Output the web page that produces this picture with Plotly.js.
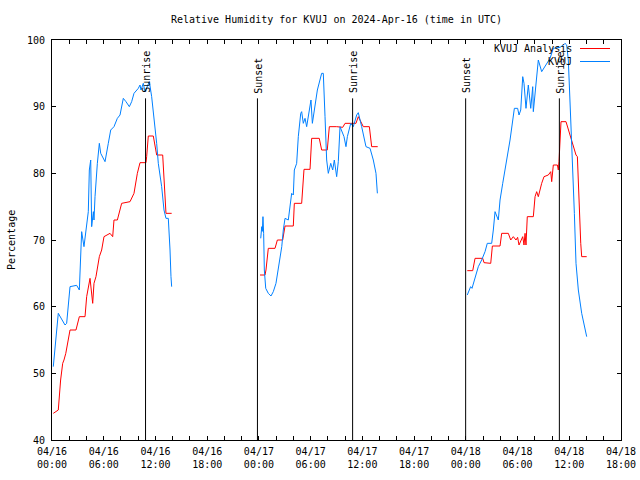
<!DOCTYPE html>
<html>
<head>
<meta charset="utf-8">
<script src="https://cdn.plot.ly/plotly-3.0.1.min.js"></script>
<style>html,body{margin:0;padding:0;background:#fff;}#chart{width:640px;height:480px;}</style>
</head>
<body>
<div id="chart"></div>
<script>
// Hours since 2024-04-16 00:00 UTC, relative humidity (%)
const obsHours1 = [0.15,0.73,1.51,1.7,2.09,2.86,3.17,3.33,3.44,3.71,4.02,4.21,4.33,4.49,4.6,4.8,4.87,4.99,5.26,5.49,5.65,6.15,6.53,6.81,7.19,7.58,7.89,8.27,8.58,8.97,9.24,9.51,10.01,10.21,10.32,10.59,10.79,11.17,11.29,11.56,11.95,12.14,12.33,12.72,12.99,13.22,13.49,13.61,13.69,13.8,13.88];
const obsRH1    = [51,59,57.25,57.5,63,63.2,62.5,69,71.25,69,72,74.25,80.5,82,72,74.25,73,76.5,81.5,84.5,83,81.75,84.5,86.5,87,88.25,88.75,91.25,90.75,90,90.75,92,92.75,93.25,92.5,93.5,92.25,93.5,93.75,91.5,87,84.5,81.5,78,74.5,73.25,73.25,71,68.5,64.5,63];
const obsHours2 = [24.21,24.33,24.4,24.47,24.55,24.63,24.79,25.09,25.4,25.67,25.98,26.37,26.65,26.83,27.03,27.41,27.61,27.8,27.99,28.11,28.38,28.57,28.85,28.96,29.15,29.35,29.54,29.73,29.93,30.04,30.2,30.51,30.78,31.28,31.47,31.67,31.86,32.05,32.33,32.56,32.75,33.02,33.21,33.41,33.87,34.1,34.26,34.65,34.95,35.34,35.53,35.92,36.19,36.42,36.89,37.27,37.58,37.74];
const obsRH2    = [70.25,72,71.3,73.5,71,65.5,62.75,62,61.6,62.25,63.5,66.5,69,71.5,73.25,73,75,77,76.75,80.5,81.5,85.5,89,89.25,87.5,88.25,87,88.5,90.5,91,87.5,90,92.5,95,95,88.5,82,80,81.5,80.5,82,79.5,81.75,87,85.5,84,85.5,87.5,87,88.75,89.1,87,85.5,84,83.75,82,80,77];
const obsHours3 = [48.17,48.56,48.72,49.07,49.45,49.84,50.23,50.49,51.0,51.19,51.39,51.77,51.97,52.28,52.66,53.13,53.63,54.01,54.17,54.37,54.6,54.75,54.98,55.25,55.53,55.76,55.83,56.14,56.41,56.8,57.19,57.77,58.15,58.93,59.31,59.5,59.7,59.89,60.17,60.4,60.59,60.78,61.05,61.44,61.71,62.02];
const obsRH3    = [61.75,63,62.75,64.5,66,67,68.25,69.5,69.5,71.5,74.25,73,76,78.5,81.5,85,89.75,89.75,88.75,89.5,94.5,93.5,89.75,93.25,89.75,93,89.25,94,97,95.25,96,97.25,98.75,98.9,99.25,99.5,99.25,97,88,81.5,74,66.5,62.5,59,57.5,55.5];

const anaHours1 = [0.15,0.62,0.73,1.0,1.24,1.39,1.6,2.09,2.78,3.17,3.83,4.02,4.41,4.72,4.87,5.1,5.49,5.76,6.03,6.73,7.04,7.19,7.58,8.08,9.05,9.51,9.9,10.21,10.9,10.98,11.17,11.75,12.14,12.84,13.11,13.22,13.88];
const anaRH1    = [44,44.5,44.5,49,51.5,52,53,56.5,56.5,58.5,58.5,61.5,64.25,60.5,63.5,64.5,67.5,68.5,70.5,71,70.5,73,73,75.5,75.75,77,80,81.6,81.6,82.5,85.6,85.6,82.75,82.75,77.5,74,74];
const anaHours2 = [24.13,24.71,24.82,24.98,25.09,25.87,26.14,26.76,27.03,27.99,28.11,28.96,29.23,29.93,30.12,31.0,31.2,31.28,31.93,32.17,33.02,33.72,33.99,35.26,35.53,35.92,36.11,36.81,37.08,37.78];
const anaRH2    = [64.75,64.75,65.5,68.25,68.75,68.75,70,70,72.1,72.1,75.5,75.5,80.6,80.6,85.25,85.25,84,83.5,83.5,87,87,86.9,87.5,87.5,88.5,87.4,87,87,84,84];
const anaHours3 = [48.17,48.8,49.07,49.96,50.11,50.89,51.08,51.97,52.16,52.93,53.21,53.51,53.82,54.01,54.17,54.6,54.75,54.87,54.98,55.13,55.83,56.03,56.22,56.41,56.8,57.07,57.57,57.85,57.96,58.15,58.62,58.73,58.81,58.93,59.04,59.62,59.89,60.28,60.47,60.78,60.94,61.17,61.33,61.44,62.02];
const anaRH3    = [65.4,65.4,67.25,67.25,66.6,66.5,69.1,69.1,71,71,70,70.5,70,70.4,69.25,70.5,69.25,71,69.25,73.5,73.5,76.5,77.25,76.5,78.5,79.5,79.75,80.25,78.75,81.25,81.25,80.5,81.75,84.25,87.75,87.75,86.5,84.75,84,82.75,82.5,73,69.5,67.5,67.5];

const sunLabels = ["Sunrise","Sunset","Sunrise","Sunset","Sunrise"];
const sunHours  = [10.85,23.83,34.87,47.98,58.85];
const sunLineTop = 91.25;

const seriesNames = ["KVUJ Analysis","KVUJ"];
const seriesColors = ["#ff0000","#0080ff"];

const base = Date.UTC(2024,3,16,0,0,0);
const toMs = h => h === null ? null : base + h*3600000;
function joinSegs(segs){ const out=[]; segs.forEach((s,i)=>{ if(i>0) out.push(null); out.push(...s); }); return out; }

const FONT = {family:"'DejaVu Sans Mono', 'Liberation Mono', monospace", size:10, color:'#000'};

const traces = [
  {x: joinSegs([anaHours1,anaHours2,anaHours3]).map(toMs), y: joinSegs([anaRH1,anaRH2,anaRH3]),
   mode:'lines', line:{color:seriesColors[0], width:1}, name:seriesNames[0], connectgaps:false, hoverinfo:'skip'},
  {x: joinSegs([obsHours1,obsHours2,obsHours3]).map(toMs), y: joinSegs([obsRH1,obsRH2,obsRH3]),
   mode:'lines', line:{color:seriesColors[1], width:1}, name:seriesNames[1], connectgaps:false, hoverinfo:'skip'}
];

const shapes = sunHours.map(h => ({type:'line', xref:'x', yref:'y', x0:toMs(h), x1:toMs(h), y0:40, y1:sunLineTop, line:{color:'#000', width:1}}));
const annotations = sunHours.map((h,i) => ({xref:'x', yref:'y', x:toMs(h), y:sunLineTop, text:sunLabels[i], textangle:-90, showarrow:false, xanchor:'center', yanchor:'bottom', yshift:3, xshift:1, font:FONT}));

// legend (gnuplot style: text, then sample line on the right)
seriesNames.forEach((n,i)=>{
  const yp = 1 - (8.5 + 13*i)/400;
  annotations.push({xref:'paper', yref:'paper', x:(574-52)/569, y:yp, text:n, showarrow:false, xanchor:'right', yanchor:'middle', font:FONT});
  shapes.push({type:'line', xref:'paper', yref:'paper', x0:(580-52)/569, x1:(610-52)/569, y0:yp, y1:yp, line:{color:seriesColors[i], width:1}});
});
annotations.push({xref:'paper', yref:'paper', x:(11-52)/569, y:0.5, text:'Percentage', textangle:-90, showarrow:false, xanchor:'center', yanchor:'middle', font:FONT});

const layout = {
  width:640, height:480,
  margin:{l:52, r:19, t:40, b:40},
  paper_bgcolor:'#fff', plot_bgcolor:'#fff',
  showlegend:false,
  font:FONT,
  title:{text:'Relative Humidity for KVUJ on 2024-Apr-16 (time in UTC)', x:0.5, xref:'paper', y:1-19/480, yref:'container', yanchor:'middle', font:FONT},
  xaxis:{type:'date', range:[toMs(0), toMs(66)], tickmode:'linear', tick0:toMs(0), dtick:6*3600000,
         tickformat:'%m/%d<br>%H:%M', ticks:'inside', ticklen:4, tickcolor:'#000', tickwidth:1,
         minor:{dtick:2*3600000, tick0:toMs(0), ticks:'inside', ticklen:4, tickcolor:'#000', showgrid:false},
         showline:true, linecolor:'#000', linewidth:1, mirror:'ticks', showgrid:false, zeroline:false,
         tickfont:FONT, ticklabelstandoff:2, fixedrange:true},
  yaxis:{range:[40,100], tickmode:'linear', tick0:40, dtick:10, ticks:'inside', ticklen:4, tickcolor:'#000', tickwidth:1,
         showline:true, linecolor:'#000', linewidth:1, mirror:'ticks', showgrid:false, zeroline:false,
         tickfont:FONT, ticklabelstandoff:4, fixedrange:true},
  shapes:shapes, annotations:annotations
};
Plotly.newPlot('chart', traces, layout, {staticPlot:true, displayModeBar:false});
</script>
</body>
</html>
